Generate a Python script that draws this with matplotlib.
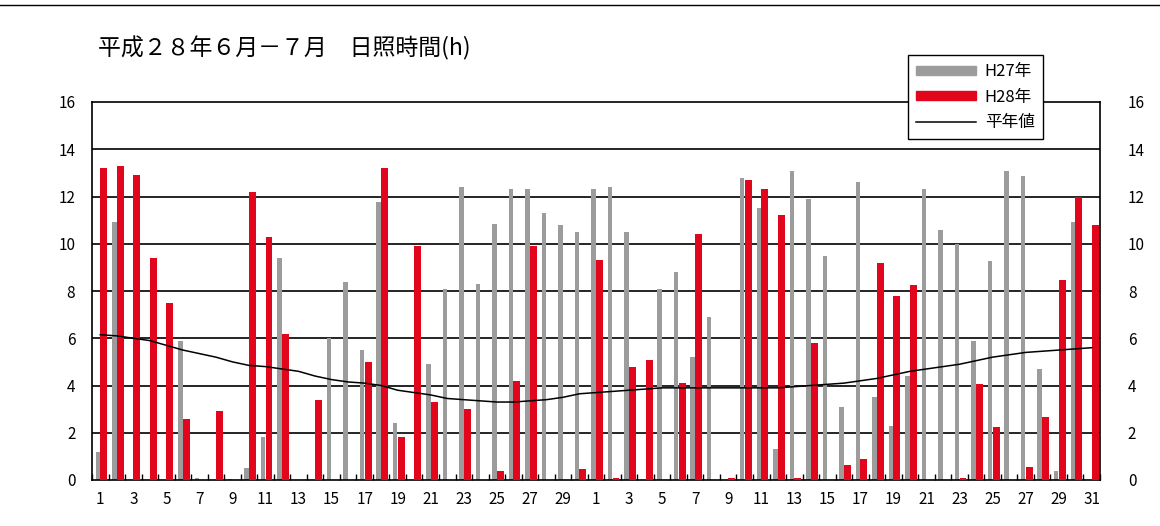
import numpy as np
import matplotlib
matplotlib.use('Agg')
import matplotlib.pyplot as plt
from matplotlib.lines import Line2D
from matplotlib.patches import Patch
from matplotlib.transforms import ScaledTranslation

plt.rcParams['font.family'] = ['Noto Sans CJK JP', 'DejaVu Sans']

# June 1-30, July 1-31
days = list(range(1, 31)) + list(range(1, 32))

h27 = [1.2, 10.9, 0.0, 0.0, 0.0, 5.9, 0.1, 0.0, 0.05, 0.5,
       1.8, 9.4, 0.0, 0.0, 6.0, 8.4, 5.5, 11.75, 2.4, 0.0,
       4.9, 8.1, 12.4, 8.3, 10.85, 12.3, 12.3, 11.3, 10.8, 10.5,
       12.3, 12.4, 10.5, 0.0, 8.1, 8.8, 5.2, 6.9, 0.0, 12.8,
       11.5, 1.3, 13.1, 11.9, 9.5, 3.1, 12.6, 3.5, 2.3, 4.4,
       12.3, 10.6, 10.0, 5.9, 9.25, 13.1, 12.85, 4.7, 0.4, 10.9,
       0.0]

h28 = [13.2, 13.3, 12.9, 9.4, 7.5, 2.6, 0.0, 2.9, 0.0, 12.2,
       10.3, 6.2, 0.0, 3.4, 0.0, 0.0, 5.0, 13.2, 1.8, 9.9,
       3.3, 0.0, 3.0, 0.0, 0.4, 4.2, 9.9, 0.0, 0.0, 0.45,
       9.3, 0.1, 4.8, 5.1, 0.0, 4.1, 10.4, 0.0, 0.1, 12.7,
       12.3, 11.2, 0.1, 5.8, 0.0, 0.65, 0.9, 9.2, 7.8, 8.25,
       0.0, 0.0, 0.1, 4.05, 2.25, 0.0, 0.55, 2.65, 8.45, 12.0,
       10.8]

normal = [6.15, 6.1, 6.0, 5.9, 5.7, 5.5, 5.35, 5.2, 5.0, 4.85,
          4.8, 4.7, 4.6, 4.4, 4.25, 4.15, 4.1, 4.0, 3.8, 3.7,
          3.6, 3.45, 3.4, 3.35, 3.3, 3.3, 3.35, 3.4, 3.5, 3.65,
          3.7, 3.75, 3.8, 3.85, 3.9, 3.9, 3.9, 3.9, 3.9, 3.9,
          3.9, 3.9, 3.95, 4.0, 4.05, 4.1, 4.2, 4.3, 4.45, 4.6,
          4.7, 4.8, 4.9, 5.05, 5.2, 5.3, 5.4, 5.45, 5.5, 5.55,
          5.6]

title = '平成２８年６月－７月　日照時間(h)'
labels = ['H27年', 'H28年', '平年値']
gray = '#9c9c9c'
red = '#e2061c'

W, H = 1160, 526
fig = plt.figure(figsize=(W / 100, H / 100), dpi=100)
ax = fig.add_axes([92 / W, 1 - 480 / H, (1100 - 92) / W, (480 - 102) / H])

x = np.arange(len(days))
ax.set_xlim(-0.5, len(days) - 0.5)
ax.set_ylim(0, 16)

# horizontal grid
for y in range(2, 16, 2):
    ax.axhline(y, color='black', lw=1.2, zorder=1)

ax.bar(x - 0.15, h27, width=0.27, color=gray, zorder=2)
ax.bar(x + 0.21, h28, width=0.42, color=red, zorder=3)
ax.plot(x, normal, color='black', lw=1.1, zorder=4)

# labels on odd days, small inward ticks between days
ax.set_xticks(x[::2])
ax.set_xticklabels(days[::2])
ax.set_xticks(np.arange(-0.5, len(days), 1), minor=True)
ax.tick_params(axis='x', which='major', length=0, labelsize=11, pad=8)
ax.tick_params(axis='x', which='minor', direction='in', length=4, width=1)

# same scale labelled on both sides
ax.set_yticks(range(0, 17, 2))
ax.tick_params(axis='y', length=0, labelsize=11, pad=12, labelright=True)
off = ScaledTranslation(8 / 72, 0, fig.dpi_scale_trans)
for t in ax.yaxis.get_major_ticks():
    t.label2.set_transform(t.label2.get_transform() + off)

for s in ax.spines.values():
    s.set_linewidth(1.2)

fig.text(98 / W, 1 - 48 / H, title, fontsize=16.5, va='center', ha='left')

handles = [Patch(color=gray), Patch(color=red),
           Line2D([], [], color='black', lw=1.1)]
leg = fig.legend(handles, labels, loc='upper left',
                 bbox_to_anchor=(908 / W, 1 - 55 / H), fontsize=12,
                 frameon=True, fancybox=False, edgecolor='black',
                 framealpha=1, handlelength=3.6, handleheight=0.5,
                 labelspacing=0.5, borderpad=0.5, handletextpad=0.5,
                 borderaxespad=0)
leg.get_frame().set_linewidth(1)
leg.set_zorder(10)

# rule across the top of the page
fig.add_artist(Line2D([0, 1], [1 - 5 / H, 1 - 5 / H], color='black', lw=1))

fig.savefig('out.png', dpi=100)
